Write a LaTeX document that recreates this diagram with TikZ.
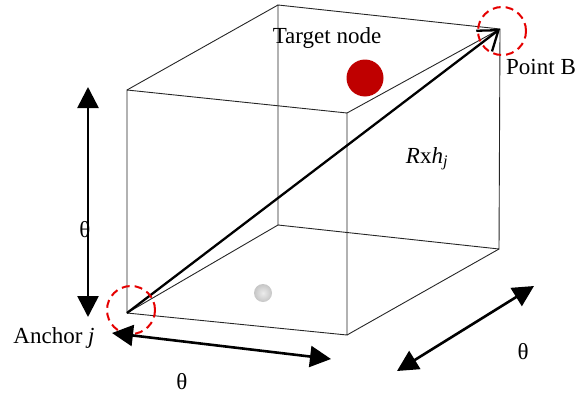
\documentclass[tikz,border=0pt]{standalone}
\usepackage{fontspec}
\setmainfont{Liberation Serif}
\usetikzlibrary{arrows.meta}

\begin{document}
\begin{tikzpicture}[
        x=1pt, y=-1pt,
        edge/.style={draw=black!85, line width=0.9pt},
        dimarrow/.style={{Triangle[length=21pt,width=21pt]}-{Triangle[length=21pt,width=21pt]}, line width=2.6pt},
        vecarrow/.style={-{Straight Barb[length=18pt,width=26pt,line width=2.3pt]}, line width=2.3pt},
        ring/.style={circle, draw=red!90!black, dash pattern=on 8pt off 5pt, line width=2pt, minimum size=48pt, inner sep=0pt},
        label/.style={font=\fontsize{23}{27}\selectfont, inner sep=0pt}
    ]
    \useasboundingbox (0,0) rectangle (585,396);

    % Cube corners
    \coordinate (ftl) at (127,90);
    \coordinate (ftr) at (347,113);
    \coordinate (fbl) at (127,313);
    \coordinate (fbr) at (347,335);
    \coordinate (btl) at (278,5);
    \coordinate (btr) at (500,29);
    \coordinate (bbl) at (278,225);
    \coordinate (bbr) at (499,249);

    % Cube edges
    \draw[edge] (ftl) -- (ftr) -- (fbr) -- (fbl) -- cycle;
    \draw[edge] (btl) -- (btr) -- (bbr) -- (bbl) -- cycle;
    \draw[edge] (ftl) -- (btl);
    \draw[edge] (ftr) -- (btr);
    \draw[edge] (fbl) -- (bbl);
    \draw[edge] (fbr) -- (bbr);

    % Nodes inside the box
    \node[circle, fill=red!75!black, minimum size=37pt, inner sep=0pt] (target) at (365,78) {};
    \node[circle, inner color=gray!15, outer color=gray!45, minimum size=18pt, inner sep=0pt] (other) at (263,293) {};

    % Anchor to point B
    \draw[vecarrow] (fbl) -- (btr);
    \node[ring] (anchorring) at (131,310) {};
    \node[ring] (pointring) at (502,31) {};

    % Side lengths
    \coordinate (vtop) at (88,87);
    \coordinate (vbot) at (88,317);
    \coordinate (hleft) at (112,333);
    \coordinate (hright) at (331,359);
    \coordinate (dleft) at (397,371);
    \coordinate (dright) at (534,286);
    \draw[dimarrow] (vtop) -- (vbot);
    \draw[dimarrow] (hleft) -- (hright);
    \draw[dimarrow] (dleft) -- (dright);

    % Labels
    \node[label, anchor=base] (targetlabel) at (327,44) {Target node};
    \node[label, anchor=base] (pointlabel) at (541,74) {Point B};
    \node[label, anchor=base] (scalelabel) at (427,163) {\textit{R}x\textit{h}\textsubscript{\textit{j}}};
    \node[label, anchor=base] (anchorlabel) at (54,343) {Anchor \textit{j}};
    \node[label] (thetav) at (85,230) {θ};
    \node[label] (thetah) at (182,382) {θ};
    \node[label] (thetad) at (523,352) {θ};

    \end{tikzpicture}
\end{document}
